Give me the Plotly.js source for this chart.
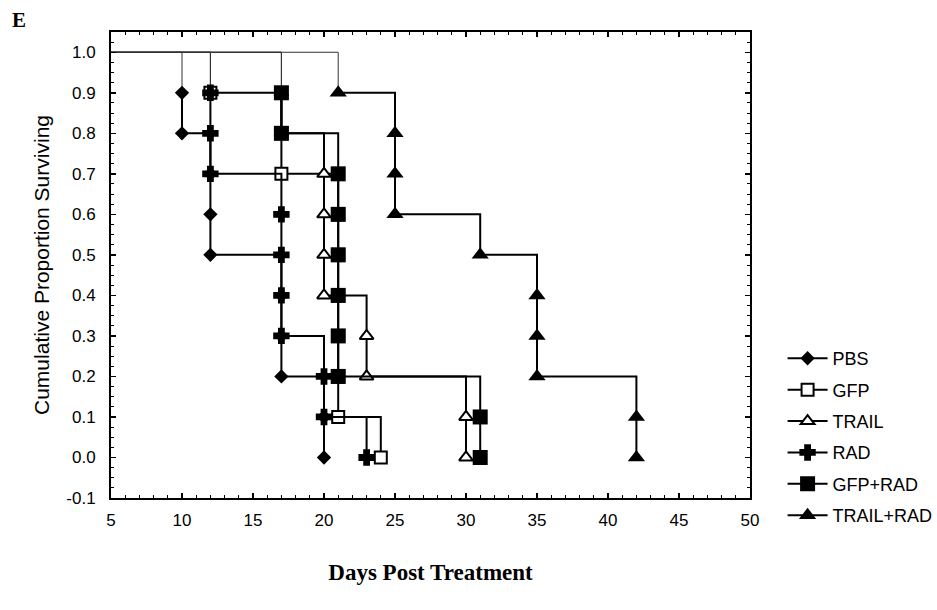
<!DOCTYPE html>
<html>
<head>
<meta charset="utf-8">
<script src="https://cdn.plot.ly/plotly-3.0.1.min.js"></script>
<style>
  html, body { margin: 0; padding: 0; background: #ffffff; }
  #chart { width: 937px; height: 610px; }
</style>
</head>
<body>
<div id="chart"></div>
<script>
// ---- Data (Kaplan-Meier steps, 10 animals per group) ----
var groupNames = ['PBS', 'GFP', 'TRAIL', 'RAD', 'GFP+RAD', 'TRAIL+RAD'];

var startDay = 0;
var startSurv = 1.0;

var pbsDays  = [10, 10, 12, 12, 12, 17, 17, 17, 20, 20];
var pbsSurv  = [0.9, 0.8, 0.7, 0.6, 0.5, 0.4, 0.3, 0.2, 0.1, 0.0];

var gfpDays  = [12, 17, 17, 21, 21, 21, 21, 21, 21, 24];
var gfpSurv  = [0.9, 0.8, 0.7, 0.6, 0.5, 0.4, 0.3, 0.2, 0.1, 0.0];

var trailDays = [17, 17, 20, 20, 20, 20, 23, 23, 30, 30];
var trailSurv = [0.9, 0.8, 0.7, 0.6, 0.5, 0.4, 0.3, 0.2, 0.1, 0.0];

var radDays  = [12, 12, 12, 17, 17, 17, 17, 20, 20, 23];
var radSurv  = [0.9, 0.8, 0.7, 0.6, 0.5, 0.4, 0.3, 0.2, 0.1, 0.0];

var gfpRadDays = [17, 17, 21, 21, 21, 21, 21, 21, 31, 31];
var gfpRadSurv = [0.9, 0.8, 0.7, 0.6, 0.5, 0.4, 0.3, 0.2, 0.1, 0.0];

var trailRadDays = [21, 25, 25, 25, 31, 35, 35, 35, 42, 42];
var trailRadSurv = [0.9, 0.8, 0.7, 0.6, 0.5, 0.4, 0.3, 0.2, 0.1, 0.0];

var yTickVals   = [-0.1, 0.0, 0.1, 0.2, 0.3, 0.4, 0.5, 0.6, 0.7, 0.8, 0.9, 1.0];
var yTickLabels = ['-0.1', '0.0', '0.1', '0.2', '0.3', '0.4', '0.5', '0.6', '0.7', '0.8', '0.9', '1.0'];
var xTickVals   = [5, 10, 15, 20, 25, 30, 35, 40, 45, 50];
var xTickLabels = ['5', '10', '15', '20', '25', '30', '35', '40', '45', '50'];

// ---- Styles ----
var styles = [
  { symbol: 'diamond',     size: 11, color: '#000', lineColor: '#000', lineW: 0 },
  { symbol: 'square',      size: 12, color: '#fff', lineColor: '#000', lineW: 2 },
  { symbol: 'triangle-up', size: 12, color: '#fff', lineColor: '#000', lineW: 2 },
  { symbol: 'cross',       size: 12, color: '#000', lineColor: '#000', lineW: 2 },
  { symbol: 'square',      size: 15, color: '#000', lineColor: '#000', lineW: 0 },
  { symbol: 'triangle-up', size: 15, color: '#000', lineColor: '#000', lineW: 0 }
];
var allDays = [pbsDays, gfpDays, trailDays, radDays, gfpRadDays, trailRadDays];
var allSurv = [pbsSurv, gfpSurv, trailSurv, radSurv, gfpRadSurv, trailRadSurv];

var traces = [];
// thin lead-in segments from 1.0 to the first event
for (var i = 0; i < groupNames.length; i++) {
  traces.push({
    x: [startDay, allDays[i][0]],
    y: [startSurv, allSurv[i][0]],
    mode: 'lines',
    line: { shape: 'hv', color: '#333', width: 1 },
    showlegend: false,
    hoverinfo: 'skip'
  });
}
for (var j = 0; j < groupNames.length; j++) {
  var s = styles[j];
  traces.push({
    x: allDays[j],
    y: allSurv[j],
    name: groupNames[j],
    legendgroup: 'g' + j,
    mode: 'lines+markers',
    line: { shape: 'hv', color: '#000', width: 2 },
    marker: { symbol: s.symbol, size: s.size, color: s.color,
              line: { color: s.lineColor, width: s.lineW } },
    cliponaxis: true
  });
}

var tickFont = { family: 'Liberation Sans, Arial, sans-serif', size: 17, color: '#000' };

var layout = {
  width: 937,
  height: 610,
  margin: { l: 111, r: 187, t: 32, b: 112, autoexpand: false },
  paper_bgcolor: '#fff',
  plot_bgcolor: '#fff',
  showlegend: true,
  legend: {
    x: 1.051, xanchor: 'left',
    y: 0.339, yanchor: 'top',
    traceorder: 'grouped',
    tracegroupgap: 5,
    itemwidth: 40,
    font: { family: 'Liberation Sans, Arial, sans-serif', size: 18, color: '#000' },
    bgcolor: 'rgba(0,0,0,0)',
    borderwidth: 0
  },
  xaxis: {
    range: [5, 50],
    tickvals: xTickVals,
    ticktext: xTickLabels,
    ticks: 'inside', ticklen: 5, tickwidth: 1.5, tickcolor: '#000',
    minor: { dtick: 1, tick0: 5, ticks: 'inside', ticklen: 3, tickwidth: 1, tickcolor: '#000' },
    mirror: 'allticks',
    showline: true, linewidth: 2, linecolor: '#000',
    showgrid: false, zeroline: false,
    tickfont: tickFont,
    ticklabelstandoff: 6,
    title: { text: '<b>Days Post Treatment</b>', standoff: 34,
             font: { family: 'Liberation Serif, Times New Roman, serif', size: 23, color: '#000' } }
  },
  yaxis: {
    range: [-0.1, 1.05],
    tickvals: yTickVals,
    ticktext: yTickLabels,
    ticks: 'inside', ticklen: 5, tickwidth: 1.5, tickcolor: '#000',
    minor: { dtick: 0.025, tick0: 0, ticks: 'inside', ticklen: 3, tickwidth: 1, tickcolor: '#000' },
    mirror: 'allticks',
    showline: true, linewidth: 2, linecolor: '#000',
    showgrid: false, zeroline: false,
    tickfont: tickFont,
    ticklabelstandoff: 10,
    title: { text: 'Cumulative Proportion Surviving', standoff: 11,
             font: { family: 'Liberation Sans, Arial, sans-serif', size: 21, color: '#000' } }
  },
  annotations: [{
    text: '<b>E</b>', xref: 'paper', yref: 'paper',
    x: -0.158, y: 1.026, xanchor: 'left', yanchor: 'middle', showarrow: false,
    font: { family: 'Liberation Serif, Times New Roman, serif', size: 21, color: '#000' }
  }]
};

Plotly.newPlot('chart', traces, layout, { staticPlot: true, displayModeBar: false });
</script>
</body>
</html>
